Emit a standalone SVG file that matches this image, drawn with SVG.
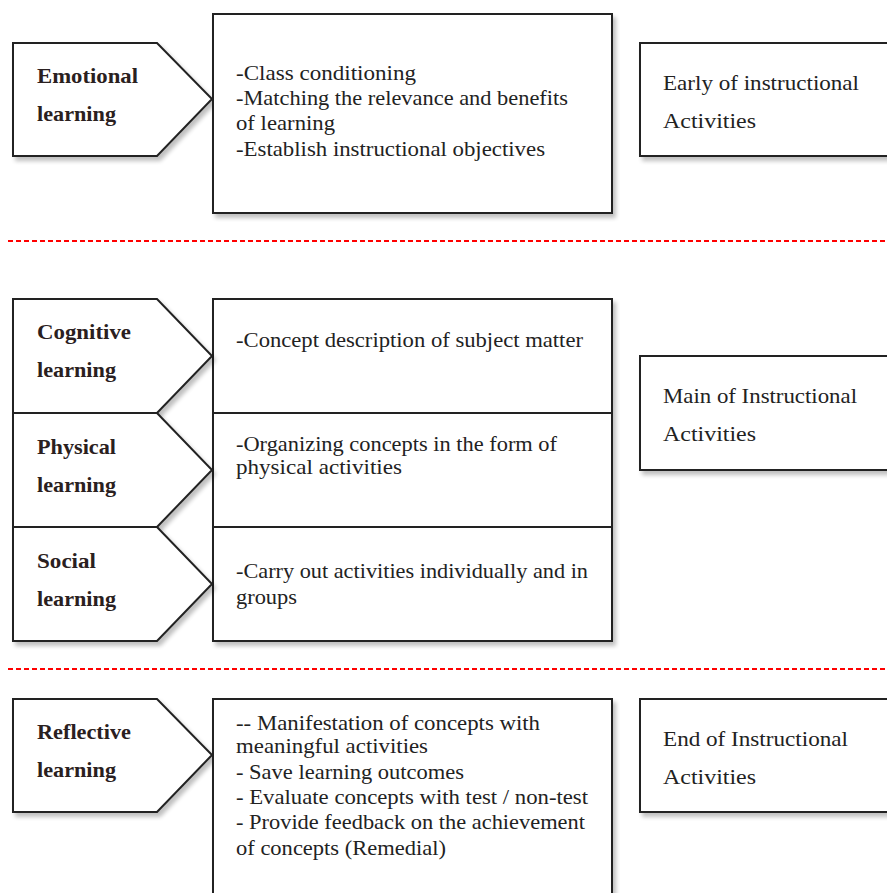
<svg xmlns="http://www.w3.org/2000/svg" width="887" height="893" viewBox="0 0 887 893">
<defs>
<filter id="sh" x="-10%" y="-10%" width="130%" height="130%">
<feGaussianBlur in="SourceAlpha" stdDeviation="2"/>
<feOffset dx="3" dy="4" result="b"/>
<feComponentTransfer><feFuncA type="linear" slope="0.25"/></feComponentTransfer>
<feMerge><feMergeNode/><feMergeNode in="SourceGraphic"/></feMerge>
</filter>
</defs>
<style>
.box{fill:#fff;stroke:#222;stroke-width:2;filter:url(#sh)}
.pent{fill:#fff;stroke:#222;stroke-width:2;filter:url(#sh)}
.lbl{font-family:"Liberation Serif",serif;font-size:22px;font-weight:bold;fill:#2a2020}
.txt{font-family:"Liberation Serif",serif;font-size:21px;fill:#222}
.sep{stroke:#f00;stroke-width:2;stroke-dasharray:5,3}
</style>
<g id="connectors">
<line class="sep" x1="8" y1="241" x2="887" y2="241"/>
<line class="sep" x1="8" y1="669" x2="887" y2="669"/>
</g>
<g id="emotional">
<polygon class="pent" points="13,43 157,43 212,99 157,156 13,156"/>
<text class="lbl" x="37" y="83" textLength="101" lengthAdjust="spacingAndGlyphs">Emotional</text>
<text class="lbl" x="37" y="121" textLength="79" lengthAdjust="spacingAndGlyphs">learning</text>
</g>
<g id="early-content">
<rect class="box" x="213" y="14" width="399" height="199"/>
<text class="txt" x="236" y="80" textLength="180" lengthAdjust="spacingAndGlyphs">-Class conditioning</text>
<text class="txt" x="236" y="105" textLength="332" lengthAdjust="spacingAndGlyphs">-Matching the relevance and benefits</text>
<text class="txt" x="236" y="130" textLength="99" lengthAdjust="spacingAndGlyphs">of learning</text>
<text class="txt" x="236" y="156" textLength="309" lengthAdjust="spacingAndGlyphs">-Establish instructional objectives</text>
</g>
<g id="early">
<rect class="box" x="640" y="43" width="250" height="113"/>
<text class="txt" x="663" y="90" textLength="196" lengthAdjust="spacingAndGlyphs">Early of instructional</text>
<text class="txt" x="663" y="128" textLength="93" lengthAdjust="spacingAndGlyphs">Activities</text>
</g>
<g id="main-content">
<rect class="box" x="213" y="299" width="399" height="342"/>
<line x1="213" y1="413" x2="612" y2="413" stroke="#222" stroke-width="2"/>
<line x1="213" y1="527" x2="612" y2="527" stroke="#222" stroke-width="2"/>
<text class="txt" x="236" y="347" textLength="347" lengthAdjust="spacingAndGlyphs">-Concept description of subject matter</text>
<text class="txt" x="236" y="451" textLength="321" lengthAdjust="spacingAndGlyphs">-Organizing concepts in the form of</text>
<text class="txt" x="236" y="474" textLength="166" lengthAdjust="spacingAndGlyphs">physical activities</text>
<text class="txt" x="236" y="578" textLength="352" lengthAdjust="spacingAndGlyphs">-Carry out activities individually and in</text>
<text class="txt" x="236" y="604" textLength="61" lengthAdjust="spacingAndGlyphs">groups</text>
</g>
<g id="cognitive">
<polygon class="pent" points="13,299 157,299 212,356 157,413 13,413"/>
<text class="lbl" x="37" y="339" textLength="94" lengthAdjust="spacingAndGlyphs">Cognitive</text>
<text class="lbl" x="37" y="377" textLength="79" lengthAdjust="spacingAndGlyphs">learning</text>
</g>
<g id="physical">
<polygon class="pent" points="13,413 157,413 212,470 157,527 13,527"/>
<text class="lbl" x="37" y="454" textLength="79" lengthAdjust="spacingAndGlyphs">Physical</text>
<text class="lbl" x="37" y="492" textLength="79" lengthAdjust="spacingAndGlyphs">learning</text>
</g>
<g id="social">
<polygon class="pent" points="13,527 157,527 212,584 157,641 13,641"/>
<text class="lbl" x="37" y="568" textLength="59" lengthAdjust="spacingAndGlyphs">Social</text>
<text class="lbl" x="37" y="606" textLength="79" lengthAdjust="spacingAndGlyphs">learning</text>
</g>
<g id="main">
<rect class="box" x="640" y="356" width="250" height="114"/>
<text class="txt" x="663" y="403" textLength="194" lengthAdjust="spacingAndGlyphs">Main of Instructional</text>
<text class="txt" x="663" y="441" textLength="93" lengthAdjust="spacingAndGlyphs">Activities</text>
</g>
<g id="reflective">
<polygon class="pent" points="13,699 157,699 212,755 157,812 13,812"/>
<text class="lbl" x="37" y="739" textLength="94" lengthAdjust="spacingAndGlyphs">Reflective</text>
<text class="lbl" x="37" y="777" textLength="79" lengthAdjust="spacingAndGlyphs">learning</text>
</g>
<g id="end-content">
<rect class="box" x="213" y="699" width="399" height="200"/>
<text class="txt" x="236" y="730" textLength="304" lengthAdjust="spacingAndGlyphs">-- Manifestation of concepts with</text>
<text class="txt" x="236" y="753" textLength="192" lengthAdjust="spacingAndGlyphs">meaningful activities</text>
<text class="txt" x="236" y="779" textLength="228" lengthAdjust="spacingAndGlyphs">- Save learning outcomes</text>
<text class="txt" x="236" y="804" textLength="352" lengthAdjust="spacingAndGlyphs">- Evaluate concepts with test / non-test</text>
<text class="txt" x="236" y="829" textLength="349" lengthAdjust="spacingAndGlyphs">- Provide feedback on the achievement</text>
<text class="txt" x="236" y="855" textLength="210" lengthAdjust="spacingAndGlyphs">of concepts (Remedial)</text>
</g>
<g id="end">
<rect class="box" x="640" y="699" width="250" height="113"/>
<text class="txt" x="663" y="746" textLength="185" lengthAdjust="spacingAndGlyphs">End of Instructional</text>
<text class="txt" x="663" y="784" textLength="93" lengthAdjust="spacingAndGlyphs">Activities</text>
</g>
</svg>
